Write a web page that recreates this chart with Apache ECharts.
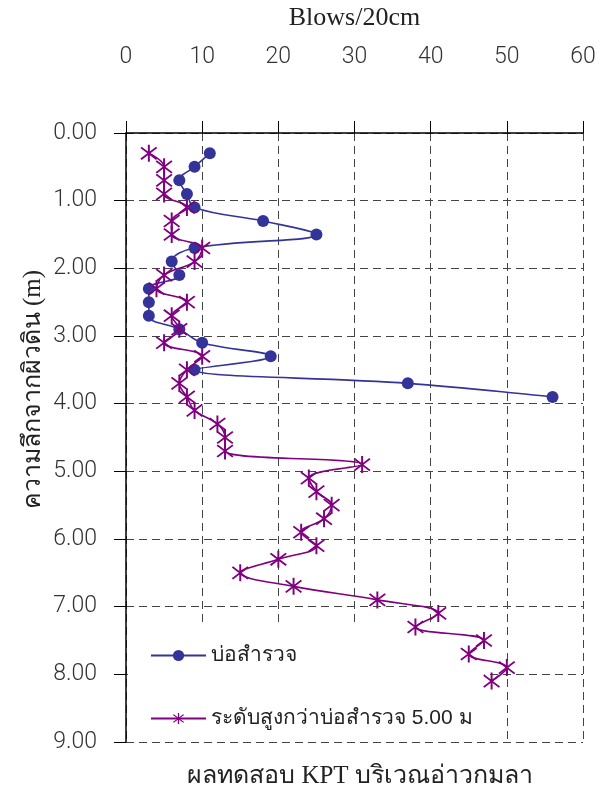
<!DOCTYPE html>
<html>
<head>
<meta charset="utf-8">
<script src="https://cdn.jsdelivr.net/npm/echarts@6/dist/echarts.min.js"></script>
<style>
html,body{margin:0;padding:0;background:#fff;}
#kpt{width:613px;height:792px;}
</style>
</head>
<body>
<div id="kpt"></div>
<script>
// ข้อมูลบ่อสำรวจ
var depthPit = [0.3, 0.5, 0.7, 0.9, 1.1, 1.3, 1.5, 1.7, 1.9, 2.1, 2.3, 2.5, 2.7, 2.9, 3.1, 3.3, 3.5, 3.7, 3.9];
var blowsPit = [11, 9, 7, 8, 9, 18, 25, 9, 6, 7, 3, 3, 3, 7, 10, 19, 9, 37, 56];
// ข้อมูลระดับสูงกว่าบ่อสำรวจ 5.00 ม
var depthHigh = [0.3, 0.5, 0.7, 0.9, 1.1, 1.3, 1.5, 1.7, 1.9, 2.1, 2.3, 2.5, 2.7, 2.9, 3.1, 3.3, 3.5, 3.7, 3.9, 4.1,
  4.3, 4.5, 4.7, 4.9, 5.1, 5.3, 5.5, 5.7, 5.9, 6.1, 6.3, 6.5, 6.7, 6.9, 7.1, 7.3, 7.5, 7.7, 7.9, 8.1];
var blowsHigh = [3, 5, 5, 5, 8, 6, 6, 10, 9, 5, 4, 8, 6, 7, 5, 10, 8, 7, 8, 9,
  12, 13, 13, 31, 24, 25, 27, 26, 23, 25, 20, 15, 22, 33, 41, 38, 47, 45, 50, 48];
var seriesNames = ['บ่อสำรวจ', 'ระดับสูงกว่าบ่อสำรวจ 5.00 ม'];

function pairs(xs, ys) {
  var out = [];
  for (var i = 0; i < xs.length; i++) out.push([xs[i], ys[i]]);
  return out;
}

// รูปดอกจัน
var starPath = 'path://M9,0L11,0L11,20L9,20Z' +
  'M2.66,2.25L18.66,16.25L17.34,17.75L1.34,3.75Z' +
  'M1.34,16.25L17.34,2.25L18.66,3.75L2.66,17.75Z';

var mycharts = echarts.init(document.getElementById('kpt'));
var gridLine = { show: true, lineStyle: { color: '#444', type: [8, 5], width: 1 } };
var numFont = { fontSize: 23, color: '#333', fontFamily: 'Roboto', fontWeight: 300 };
var options = {
  animation: false,
  backgroundColor: '#fff',
  title: {
    text: 'ผลทดสอบ KPT บริเวณอ่าวกมลา',
    left: 355,
    top: 759,
    textAlign: 'center',
    textStyle: { fontFamily: 'Liberation Serif', fontSize: 25, fontWeight: 'normal', color: '#222' }
  },
  grid: { left: 126, top: 133, right: 30, bottom: 50, containLabel: false, outerBoundsMode: 'none' },
  legend: {
    orient: 'vertical',
    left: 128,
    top: 624,
    z: 1,
    padding: [21, 12, 11, 22],
    itemGap: 42,
    itemWidth: 55,
    itemHeight: 14,
    backgroundColor: '#fff',
    textStyle: { fontSize: 21, color: '#222', fontFamily: 'Liberation Sans' },
    data: seriesNames
  },
  xAxis: {
    type: 'value',
    position: 'top',
    min: 0,
    max: 60,
    interval: 10,
    name: 'Blows/20cm',
    nameLocation: 'middle',
    nameGap: 102,
    nameTextStyle: { fontFamily: 'Liberation Serif', fontSize: 26, color: '#222' },
    axisLine: { show: true, lineStyle: { color: '#000', width: 1.5 } },
    axisTick: { show: true, length: 12, lineStyle: { color: '#000' } },
    axisLabel: Object.assign({ margin: 64 }, numFont),
    splitLine: gridLine
  },
  yAxis: {
    type: 'value',
    inverse: true,
    min: 0,
    max: 9,
    interval: 1,
    axisLine: { show: true, lineStyle: { color: '#000', width: 1.5 } },
    axisTick: { show: true, length: 12, lineStyle: { color: '#000' } },
    axisLabel: Object.assign({
      margin: 29,
      formatter: function (v) { return v.toFixed(2); }
    }, numFont),
    splitLine: gridLine
  },
  graphic: [{
    type: 'text',
    left: 21,
    top: 270,
    rotation: Math.PI / 2,
    style: {
      text: 'ความลึกจากผิวดิน (m)',
      fontSize: 25,
      fill: '#222',
      fontFamily: 'Liberation Serif'
    }
  }],
  series: [
    {
      name: seriesNames[0],
      type: 'line',
      z: 3,
      data: pairs(blowsPit, depthPit),
      smooth: 0.4,
      symbol: 'circle',
      symbolSize: 12,
      itemStyle: { color: '#333399' },
      lineStyle: { color: '#333399', width: 1.6 }
    },
    {
      name: seriesNames[1],
      type: 'line',
      z: 3,
      data: pairs(blowsHigh, depthHigh),
      smooth: 0.4,
      symbol: starPath,
      symbolSize: [17, 17],
      itemStyle: { color: '#800080' },
      lineStyle: { color: '#800080', width: 1.6 }
    }
  ]
};
mycharts.setOption(options, true);
window.addEventListener('resize', () => mycharts.resize());
</script>
</body>
</html>
